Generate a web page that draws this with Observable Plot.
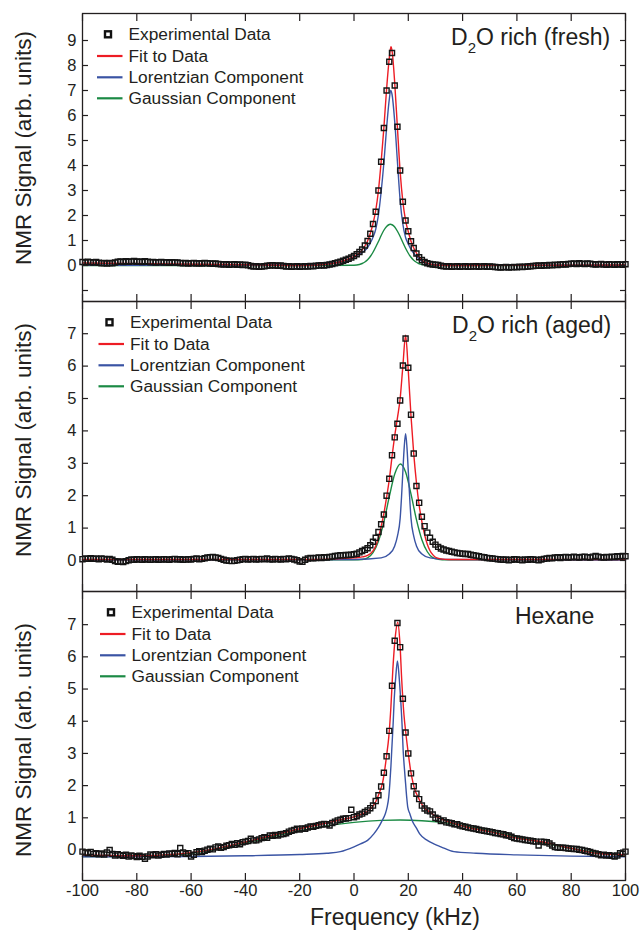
<!DOCTYPE html>
<html>
<head>
<meta charset="utf-8">
<script src="https://cdn.jsdelivr.net/npm/d3@7"></script>
<script src="https://cdn.jsdelivr.net/npm/@observablehq/plot@0.6"></script>
<style>
  html, body { margin: 0; padding: 0; background: #fff; }
  #chart { position: relative; width: 644px; height: 931px; overflow: hidden; background: #fff; }
  #chart > svg { position: absolute; left: 0; }
</style>
</head>
<body>
<div id="chart"></div>
<script>
// ---------------- DATA ----------------
// Frequency sampling grid of the experimental points (kHz), 1 kHz steps
const freq = d3.range(-100, 101, 1);

// Panel 1: D2O rich (fresh)
const expFresh = [
  0.14,0.12,0.15,0.13,0.12,0.14,0.11,0.09,0.10,0.08,
  0.10,0.09,0.12,0.15,0.16,0.14,0.17,0.15,0.16,0.18,
  0.15,0.16,0.14,0.17,0.15,0.13,0.14,0.12,0.13,0.14,
  0.12,0.13,0.11,0.13,0.12,0.12,0.10,0.09,0.10,0.08,
  0.09,0.10,0.08,0.09,0.08,0.10,0.09,0.08,0.07,0.08,
  0.06,0.05,0.04,0.05,0.03,0.04,0.05,0.03,0.04,0.02,
  0.03,0.01,-0.02,-0.04,-0.03,-0.05,-0.04,-0.03,-0.01,0.00,
  0.01,0.00,-0.01,0.00,-0.02,-0.04,-0.03,-0.05,-0.04,-0.03,
  -0.05,-0.04,-0.03,-0.04,-0.02,-0.03,-0.01,0.00,0.01,0.00,
  0.02,0.04,0.06,0.09,0.12,0.15,0.19,0.23,0.27,0.32,
  0.38,0.45,0.54,0.64,0.80,0.98,1.27,1.66,2.15,3.00,
  4.15,5.50,7.00,8.15,8.50,7.20,5.55,3.80,2.55,1.80,
  1.37,0.97,0.70,0.48,0.33,0.22,0.14,0.09,0.06,0.04,
  0.03,0.02,-0.01,-0.03,-0.04,-0.03,-0.05,-0.04,-0.03,-0.05,
  -0.04,-0.03,-0.05,-0.04,-0.04,-0.03,-0.05,-0.04,-0.03,-0.05,
  -0.04,-0.05,-0.06,-0.07,-0.08,-0.07,-0.06,-0.08,-0.07,-0.06,
  -0.07,-0.05,-0.06,-0.05,-0.04,-0.03,-0.02,-0.01,0.00,-0.01,
  0.01,0.00,0.02,0.01,0.03,0.02,0.04,0.05,0.04,0.06,
  0.07,0.08,0.06,0.09,0.07,0.06,0.08,0.07,0.05,0.04,
  0.05,0.06,0.04,0.03,0.05,0.04,0.03,0.05,0.04,0.03,
  0.05
];
const fitFreshX = [-100,-40,-20,-10,-6,-3,0,2,4,5,6,7,8,9,10,11,12,13,13.6,14,15,16,17,18,19,20,21,22,23,24,25,26,28,30,40,100];
const fitFreshY = [0.10,0.03,0.00,0.05,0.12,0.22,0.36,0.50,0.78,0.98,1.28,1.68,2.20,3.00,4.15,5.50,7.05,8.30,8.75,8.60,7.30,5.50,3.75,2.55,1.80,1.35,0.97,0.70,0.50,0.34,0.22,0.14,0.06,0.02,0.00,0.02];
const lorFreshX = [-100,-60,-40,-20,-10,-6,-3,0,2,4,5,6,7,8,9,10,11,12,13,13.5,14,15,16,17,18,19,20,21,22,23,24,25,26,28,30,40,60,100];
const lorFreshY = [0.01,0.01,0.02,0.03,0.06,0.12,0.21,0.34,0.45,0.60,0.72,0.90,1.13,1.45,2.02,2.95,4.10,5.50,6.65,7.00,6.85,5.75,4.15,2.60,1.65,1.12,0.86,0.64,0.49,0.37,0.27,0.18,0.12,0.05,0.02,0.01,0.01,0.00];
const gauFreshX = [-100,-20,0,2,3,4,5,6,7,8,9,10,11,12,13,13.4,14,15,16,17,18,19,20,21,22,23,24,25,27,30,100];
const gauFreshY = [0,0,0.01,0.04,0.08,0.14,0.23,0.36,0.53,0.74,0.96,1.20,1.41,1.56,1.64,1.65,1.63,1.54,1.37,1.16,0.92,0.69,0.49,0.33,0.21,0.13,0.07,0.04,0.01,0,0];

// Panel 2: D2O rich (aged)
const expAged = [
  0.04,0.06,0.05,0.07,0.05,0.06,0.04,0.06,0.05,0.03,
  0.05,0.02,-0.02,-0.04,-0.03,-0.05,-0.02,0.01,0.03,0.02,
  0.04,0.03,0.02,0.04,0.03,0.02,0.03,0.04,0.02,0.03,
  0.04,0.03,0.02,0.04,0.05,0.03,0.04,0.02,0.03,0.04,
  0.03,0.05,0.06,0.04,0.05,0.07,0.09,0.10,0.11,0.09,
  0.08,0.05,0.02,0.00,-0.01,-0.02,-0.01,0.01,0.02,0.04,
  0.05,0.03,0.04,0.05,0.03,0.04,0.05,0.04,0.06,0.04,
  0.03,0.05,0.04,0.03,0.05,0.04,0.06,0.05,0.03,0.01,
  -0.03,-0.04,0.02,0.06,0.08,0.07,0.08,0.09,0.08,0.10,
  0.09,0.11,0.12,0.14,0.15,0.16,0.16,0.17,0.17,0.18,
  0.19,0.21,0.25,0.29,0.33,0.38,0.47,0.58,0.70,0.88,
  1.12,1.42,2.00,2.52,3.25,3.80,4.22,4.94,6.02,6.85,
  5.95,4.50,3.30,2.30,1.78,1.35,1.06,0.86,0.70,0.58,
  0.49,0.42,0.37,0.34,0.31,0.29,0.27,0.25,0.23,0.22,
  0.21,0.20,0.20,0.18,0.16,0.15,0.13,0.11,0.10,0.08,
  0.07,0.06,0.05,0.04,0.03,0.02,0.03,0.01,0.02,0.04,
  0.03,0.02,0.01,0.03,0.02,0.04,0.03,0.02,0.01,0.03,
  0.05,0.06,0.08,0.07,0.09,0.10,0.08,0.10,0.11,0.09,
  0.10,0.12,0.10,0.09,0.11,0.12,0.10,0.09,0.12,0.14,
  0.12,0.10,0.09,0.11,0.10,0.12,0.11,0.13,0.12,0.14,
  0.13
];
const fitAgedX = [-100,-40,-20,-10,-5,0,3,5,7,8,9,10,11,12,13,14,15,16,17,18,19,20,21,22,23,24,25,26,27,28,29,30,32,35,40,60,100];
const fitAgedY = [0.03,0.03,0.03,0.04,0.06,0.08,0.11,0.16,0.30,0.45,0.70,1.05,1.45,1.95,2.50,3.20,3.85,4.40,5.00,6.00,6.95,5.85,4.45,3.30,2.40,1.70,1.20,0.80,0.50,0.30,0.18,0.10,0.05,0.03,0.03,0.03,0.03];
const lorAgedX = [-100,-20,0,10,13,15,16,17,17.5,18,18.5,19,19.5,20,20.5,21,22,23,25,28,35,60,100];
const lorAgedY = [0.01,0.02,0.03,0.08,0.20,0.45,0.75,1.30,1.95,2.75,3.50,3.91,3.50,2.75,1.95,1.30,0.75,0.45,0.20,0.08,0.03,0.02,0.01];
const gauAgedX = [-100,0,3,5,7,9,11,13,15,17.1,19,21,23,25,27,29,31,34,40,100];
const gauAgedY = [0.02,0.02,0.03,0.08,0.24,0.59,1.19,1.97,2.67,2.98,2.73,2.05,1.26,0.64,0.27,0.09,0.04,0.02,0.02,0.02];

// Panel 3: Hexane
const expHexane = [
  -0.05,-0.08,-0.10,-0.06,-0.12,-0.10,-0.13,-0.11,-0.14,-0.08,
  0.00,-0.12,-0.17,-0.13,-0.16,-0.18,-0.15,-0.20,-0.17,-0.19,
  -0.22,-0.18,-0.21,-0.27,-0.20,-0.14,-0.16,-0.13,-0.17,-0.15,
  -0.12,-0.14,-0.11,-0.12,-0.09,-0.13,0.06,-0.08,-0.12,-0.10,
  -0.20,-0.15,-0.07,-0.04,-0.06,-0.02,0.01,0.04,0.02,0.08,
  0.11,0.07,0.09,0.13,0.15,0.19,0.16,0.21,0.18,0.24,
  0.26,0.28,0.35,0.30,0.30,0.33,0.37,0.40,0.38,0.45,
  0.44,0.47,0.45,0.49,0.50,0.52,0.57,0.60,0.62,0.66,
  0.64,0.67,0.66,0.70,0.73,0.72,0.75,0.77,0.79,0.81,
  0.80,0.76,0.84,0.88,0.92,0.94,0.97,0.98,0.99,1.25,
  1.02,1.05,1.10,1.13,1.18,1.23,1.30,1.38,1.52,1.70,
  1.97,2.40,2.91,3.70,5.10,6.50,7.05,6.30,4.70,3.65,
  3.00,2.38,1.98,1.75,1.58,1.38,1.29,1.23,1.20,1.10,
  1.00,0.97,0.90,0.92,0.86,0.85,0.83,0.80,0.80,0.76,
  0.74,0.72,0.70,0.68,0.67,0.65,0.63,0.61,0.60,0.58,
  0.57,0.55,0.53,0.52,0.50,0.49,0.46,0.45,0.41,0.37,
  0.36,0.34,0.33,0.31,0.30,0.29,0.27,0.26,0.14,0.26,
  0.25,0.24,0.20,0.14,0.09,0.08,0.07,0.07,0.06,0.05,
  0.04,0.03,0.03,0.01,0.00,-0.02,-0.04,-0.06,-0.09,-0.11,
  -0.13,-0.16,-0.15,-0.17,-0.16,-0.18,-0.20,-0.17,-0.10,-0.12,
  -0.05
];
const fitHexX = [-100,-90,-80,-70,-60,-50,-40,-30,-20,-10,-5,0,3,6,8,9.5,10.5,11.2,12,12.8,13.6,14.3,15.3,16.1,16.9,17.6,18.4,19.2,20,20.8,21.7,22.5,23.3,24.7,26,28,30,33,37,42,50,60,70,80,90,100];
const fitHexY = [-0.15,-0.17,-0.18,-0.15,-0.08,0.06,0.25,0.46,0.66,0.84,0.94,1.03,1.12,1.27,1.50,1.82,2.08,2.42,2.93,3.50,4.45,5.60,6.70,7.08,6.45,5.25,4.20,3.55,3.00,2.50,2.10,1.85,1.70,1.46,1.30,1.18,1.05,0.93,0.82,0.70,0.57,0.37,0.24,0.05,-0.11,-0.15];
const lorHexX = [-100,-60,-40,-20,-10,-5,0,2.4,5,7.3,9,10.4,11.5,12.2,12.8,13.2,13.6,13.9,14.4,14.8,15.4,16,16.6,17.2,17.7,18.1,18.5,19,19.4,19.8,20.6,21.4,23,24.2,27,29.4,32,36.8,45,60,80,100];
const lorHexY = [-0.21,-0.20,-0.18,-0.14,-0.10,-0.05,0.10,0.19,0.30,0.50,0.70,0.92,1.12,1.33,1.65,2.07,2.60,3.10,3.90,4.66,5.40,5.87,5.40,4.66,3.90,3.10,2.60,2.07,1.65,1.33,1.12,0.92,0.68,0.50,0.30,0.19,0.10,-0.05,-0.10,-0.15,-0.19,-0.21];
const gauHexX = [-100,-90,-80,-70,-60,-50,-40,-30,-20,-10,0,10,17,25,35,45,55,65,75,85,95,100];
const gauHexY = [-0.20,-0.20,-0.19,-0.16,-0.10,0.04,0.22,0.42,0.60,0.75,0.86,0.92,0.93,0.91,0.83,0.68,0.50,0.31,0.13,-0.02,-0.13,-0.16];

// Ticks and labels
const xTicks = [-100,-80,-60,-40,-20,0,20,40,60,80,100];
const yTicksFresh = [-1,0,1,2,3,4,5,6,7,8,9];
const yLabelsFresh = [0,1,2,3,4,5,6,7,8,9];
const yTicksOther = [0,1,2,3,4,5,6,7];
const legendLabels = ["Experimental Data","Fit to Data","Lorentzian Component","Gaussian Component"];
const panelNames = [["D","2","O rich (fresh)"],["D","2","O rich (aged)"],["Hexane"]];
const yTitle = "NMR Signal (arb. units)";
const xTitle = "Frequency (kHz)";

// ---------------- STYLE ----------------
const FONT = '"Liberation Sans", Arial, Helvetica, sans-serif';
const INK = "#231f20";
const RED = "#ed1c24", BLUE = "#3a54a4", GREEN = "#1b8a44";
const seriesColors = [null, RED, BLUE, GREEN];

const panels = [
  {top: 13,  height: 288, yDomain: [-1.44, 10.08], yTicks: yTicksFresh, yLabels: yLabelsFresh,
   exp: expFresh, fit: [fitFreshX, fitFreshY], lor: [lorFreshX, lorFreshY], gau: [gauFreshX, gauFreshY],
   legendDx: 0, nameX: 451, nameBase: 45, titleCenter: 148},
  {top: 301, height: 290, yDomain: [-0.957, 7.994], yTicks: yTicksOther, yLabels: yTicksOther,
   exp: expAged, fit: [fitAgedX, fitAgedY], lor: [lorAgedX, lorAgedY], gau: [gauAgedX, gauAgedY],
   legendDx: 1.5, nameX: 452, nameBase: 333, titleCenter: 440},
  {top: 591, height: 289, yDomain: [-0.947, 8.03], yTicks: yTicksOther, yLabels: yTicksOther,
   exp: expHexane, fit: [fitHexX, fitHexY], lor: [lorHexX, lorHexY], gau: [gauHexX, gauHexY],
   legendDx: 3, nameX: 515, nameBase: 624, titleCenter: 740, showX: true}
];

const root = document.getElementById("chart");
const rows = ([xs, ys]) => xs.map((x, k) => ({x, y: ys[k]}));

panels.forEach((p) => {
  const pad = 6, mb = p.showX ? 40 : pad;
  const pts = freq.map((f, k) => ({f, v: p.exp[k]}));
  const lineOpts = (c) => ({x: "x", y: "y", stroke: c, strokeWidth: 1.4, curve: "monotone-x"});
  const marks = [
    Plot.line(rows(p.gau), lineOpts(GREEN)),
    Plot.line(rows(p.lor), lineOpts(BLUE)),
    Plot.line(rows(p.fit), lineOpts(RED)),
    Plot.dot(pts, {x: "f", y: "v", symbol: "square", r: 2.85, stroke: "#151515", strokeWidth: 1.4, fill: "none"}),
    Plot.frame({stroke: INK, strokeWidth: 1.3}),
    Plot.axisX({anchor: "bottom", ticks: xTicks, tickSize: -7, tickFormat: () => "", label: null, stroke: INK, strokeWidth: 1.2}),
    Plot.axisX({anchor: "top", ticks: xTicks, tickSize: -7, tickFormat: () => "", label: null, stroke: INK, strokeWidth: 1.2}),
    Plot.axisY({anchor: "left", ticks: p.yTicks, tickSize: -6, tickFormat: () => "", label: null, stroke: INK, strokeWidth: 1.2}),
    Plot.axisY({anchor: "right", ticks: p.yTicks, tickSize: -6, tickFormat: () => "", label: null, stroke: INK, strokeWidth: 1.2}),
    Plot.axisY({anchor: "left", ticks: p.yLabels, tickSize: 0, tickPadding: 6, fontSize: 16.5, label: null, fill: INK, tickFormat: (d) => String(d)})
  ];
  if (p.showX) {
    marks.push(Plot.axisX({anchor: "bottom", ticks: xTicks, tickSize: 0, tickPadding: 4, fontSize: 16.5, label: null, fill: INK, tickFormat: (d) => String(d)}));
  }
  const svg = Plot.plot({
    width: 644,
    height: p.height + pad + mb,
    marginLeft: 82, marginRight: 19, marginTop: pad, marginBottom: mb,
    style: {background: "transparent", overflow: "visible", fontFamily: FONT, color: INK},
    x: {domain: [-100, 100]},
    y: {domain: p.yDomain},
    marks
  });
  svg.style.top = (p.top - pad) + "px";
  root.append(svg);
});

// ---------------- Text & legends overlay ----------------
const ov = d3.select(root).append("svg")
  .attr("width", 644).attr("height", 931)
  .style("top", "0px").style("pointer-events", "none")
  .attr("font-family", FONT).attr("fill", INK);

const rowCenters = [21.3, 43, 64.3, 85.3];
panels.forEach((p, i) => {
  const T = p.top, dx = p.legendDx;
  legendLabels.forEach((lab, j) => {
    const cy = T + rowCenters[j];
    if (j === 0) {
      ov.append("rect").attr("x", 108 + dx - 3).attr("y", cy - 3).attr("width", 6).attr("height", 6)
        .attr("fill", "#fff").attr("stroke", "#111").attr("stroke-width", 2.4);
    } else {
      ov.append("line").attr("x1", 97 + dx).attr("x2", 122.5 + dx).attr("y1", cy).attr("y2", cy)
        .attr("stroke", seriesColors[j]).attr("stroke-width", 2.2);
    }
    ov.append("text").attr("x", 128.5 + dx).attr("y", cy + 6).attr("font-size", 17.3).text(lab);
  });
  // panel name
  const name = panelNames[i];
  const t = ov.append("text").attr("x", p.nameX).attr("y", p.nameBase).attr("font-size", 23);
  if (name.length === 3) {
    t.append("tspan").text(name[0]);
    t.append("tspan").attr("font-size", 15).attr("dy", 7.5).text(name[1]);
    t.append("tspan").attr("dy", -7.5).text(name[2]);
  } else {
    t.text(name[0]);
  }
  // y title
  ov.append("text").attr("transform", `translate(31,${p.titleCenter}) rotate(-90)`)
    .attr("text-anchor", "middle").attr("font-size", 22.5).text(yTitle);
});

ov.append("text").attr("x", 395).attr("y", 925).attr("text-anchor", "middle")
  .attr("font-size", 23).text(xTitle);
</script>
</body>
</html>
